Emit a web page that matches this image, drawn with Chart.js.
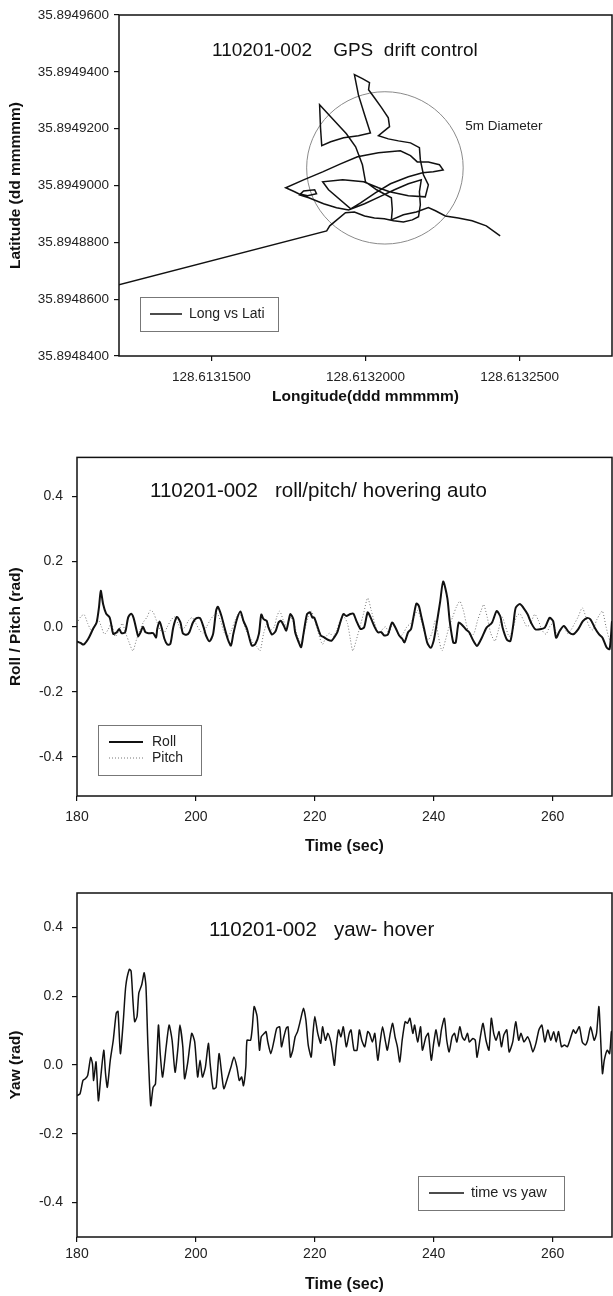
<!DOCTYPE html>
<html lang="en">
<head>
  <meta charset="UTF-8" />
  <title>110201-002 GPS drift / roll-pitch / yaw</title>
  <script src="https://cdn.jsdelivr.net/npm/chart.js"></script>
  <style>
    body { margin: 0; background: #fff; }
    .plot { position: absolute; left: 0; }
  </style>
</head>
<body>
  <canvas id="gpsChart" class="plot" width="613" height="420" style="top:0px"></canvas>
  <canvas id="rpChart" class="plot" width="613" height="420" style="top:440px"></canvas>
  <canvas id="yawChart" class="plot" width="613" height="436" style="top:860px"></canvas>

  <script>
    const FONT = '"Liberation Sans", Arial, sans-serif';

    // --- GPS track (longitude / latitude, degrees) ---
    const gpsLon = [
      128.6131197, 128.6131874, 128.6131884, 128.6131935, 128.6131964, 128.6131997, 128.6132029, 128.6132061, 128.6132091, 128.6132123,
      128.6132152, 128.6132172, 128.6132178, 128.6132175, 128.6132181, 128.6132139, 128.6132094, 128.6132045, 128.6131997, 128.6131945,
      128.6131906, 128.6131864, 128.6131816, 128.6131786, 128.6131799, 128.6131835, 128.6131841, 128.6131812, 128.6131783, 128.6131770,
      128.6131741, 128.6131799, 128.6131861, 128.6131919, 128.6131974, 128.6132042, 128.6132113, 128.6132146, 128.6132168, 128.6132204,
      128.6132240, 128.6132252, 128.6132220, 128.6132185, 128.6132139, 128.6132081, 128.6132032, 128.6131984, 128.6131952, 128.6131880,
      128.6131861, 128.6131926, 128.6131994, 128.6132042, 128.6132078, 128.6132139, 128.6132194, 128.6132204, 128.6132188, 128.6132178,
      128.6132175, 128.6132146, 128.6132107, 128.6132074, 128.6132042, 128.6132061, 128.6132078, 128.6132074, 128.6132052, 128.6132029,
      128.6132010, 128.6132013, 128.6131990, 128.6131964, 128.6131977, 128.6131997, 128.6132016, 128.6131977, 128.6131929, 128.6131887,
      128.6131858, 128.6131854, 128.6131851, 128.6131896, 128.6131938, 128.6131968, 128.6131990, 128.6132000, 128.6132036, 128.6132084,
      128.6132087, 128.6132084, 128.6132123, 128.6132165, 128.6132204, 128.6132227, 128.6132259, 128.6132301, 128.6132346, 128.6132392,
      128.6132437
    ];
    const gpsLat = [
      35.8948650, 35.8948840, 35.8948858, 35.8948904, 35.8948907, 35.8948893, 35.8948886, 35.8948883, 35.8948876, 35.8948872,
      35.8948879, 35.8948890, 35.8948932, 35.8948978, 35.8949020, 35.8949006, 35.8948985, 35.8948960, 35.8948936, 35.8948914,
      35.8948922, 35.8948936, 35.8948957, 35.8948967, 35.8948981, 35.8948985, 35.8948971, 35.8948964, 35.8948971, 35.8948978,
      35.8948992, 35.8949020, 35.8949048, 35.8949076, 35.8949101, 35.8949115, 35.8949122, 35.8949105, 35.8949083, 35.8949083,
      35.8949073, 35.8949055, 35.8949048, 35.8949045, 35.8949031, 35.8949006, 35.8948974, 35.8948939, 35.8948918, 35.8948985,
      35.8949013, 35.8949020, 35.8949013, 35.8948992, 35.8948978, 35.8948964, 35.8948960, 35.8949002, 35.8949038, 35.8949090,
      35.8949133, 35.8949150, 35.8949157, 35.8949164, 35.8949175, 35.8949192, 35.8949207, 35.8949238, 35.8949274, 35.8949309,
      35.8949337, 35.8949362, 35.8949376, 35.8949390, 35.8949319, 35.8949249, 35.8949185, 35.8949175, 35.8949168, 35.8949154,
      35.8949140, 35.8949203, 35.8949284, 35.8949231, 35.8949182, 35.8949136, 35.8949073, 35.8949013, 35.8948985, 35.8948957,
      35.8948915, 35.8948879, 35.8948897, 35.8948907, 35.8948922, 35.8948911, 35.8948893, 35.8948886, 35.8948876, 35.8948858,
      35.8948823
    ];
    const lonTicks = [128.61315, 128.6132, 128.61325];
    const latTicks = [35.89484, 35.89486, 35.89488, 35.8949, 35.89492, 35.89494, 35.89496];
    // 5 m circle: centre and half-axes in degrees
    const ring = { lon: 128.6132063, lat: 35.8949062, dLon: 0.0000254, dLat: 0.0000268,
                   text: '5m Diameter', textLon: 128.6132324, textLat: 35.8949210 };

    // --- roll / pitch (rad) vs time (sec) ---
    const rollTime = [
      180.0,180.6,181.1,181.9,182.7,183.3,183.7,184.0,184.4,184.9,
      185.5,185.8,186.1,186.7,187.1,187.5,188.1,188.6,189.1,189.5,
      190.1,190.3,190.7,191.1,191.5,192.0,192.8,193.3,193.5,193.9,
      194.3,194.7,195.2,195.7,196.2,196.8,197.4,197.8,198.4,198.9,
      199.5,200.1,200.7,201.3,201.7,202.3,202.9,203.4,203.7,204.3,
      204.8,205.4,205.9,206.3,206.9,207.5,208.0,208.6,209.4,210.0,
      210.6,211.0,211.4,211.9,212.2,212.8,213.4,213.9,214.3,214.8,
      215.2,215.6,215.9,216.4,216.7,217.3,217.7,218.1,218.7,219.2,
      219.6,219.9,220.4,221.0,221.5,222.2,222.8,223.3,223.8,224.2,
      224.8,225.3,226.0,226.5,227.0,227.7,228.3,228.9,229.4,230.1,
      230.6,231.2,231.7,232.3,233.0,233.6,234.2,234.7,235.1,235.7,
      236.2,236.7,237.1,237.5,237.9,238.4,238.9,239.5,240.0,240.4,
      241.1,241.6,242.3,242.7,243.3,243.7,244.2,244.7,245.4,246.0,
      246.7,247.3,248.1,248.9,249.8,250.6,251.2,251.6,252.3,252.9,
      253.4,253.8,254.5,255.1,255.8,256.4,257.1,257.9,258.7,259.5,
      260.1,260.6,261.2,261.9,262.8,263.5,264.3,265.1,265.8,266.4,
      267.1,267.8,268.4,269.1,269.6,270.0
    ];
    const rollValue = [
      -0.045,-0.05,-0.055,-0.037,-0.007,0.013,0.06,0.11,0.069,0.04,
      0.028,0.003,-0.022,-0.017,-0.007,-0.02,-0.017,0.028,0.04,0.028,
      -0.017,-0.03,-0.017,0.0,-0.017,-0.02,-0.02,-0.033,-0.007,0.016,
      -0.007,-0.037,-0.055,-0.053,-0.002,0.03,0.013,-0.02,-0.025,-0.017,
      0.013,0.026,0.026,-0.002,-0.027,-0.045,-0.022,0.049,0.061,0.033,
      -0.002,-0.04,-0.058,-0.022,0.023,0.047,0.018,-0.007,-0.058,-0.053,
      -0.022,0.037,0.023,0.018,-0.002,-0.024,-0.014,0.013,0.018,0.003,
      -0.012,0.018,0.039,0.023,-0.017,-0.048,-0.063,-0.022,0.039,0.044,
      0.028,0.028,0.003,-0.027,-0.032,-0.04,-0.043,-0.032,-0.017,0.008,
      0.039,0.033,0.039,0.04,0.018,-0.007,-0.002,0.044,0.028,-0.002,
      -0.017,-0.017,-0.027,-0.024,0.013,-0.004,-0.027,-0.037,-0.048,-0.017,
      -0.007,0.039,0.071,0.064,0.033,-0.007,-0.048,-0.065,-0.043,-0.003,
      0.078,0.139,0.088,0.017,-0.049,-0.049,0.012,0.007,-0.008,-0.018,
      -0.044,-0.059,-0.034,-0.003,0.012,0.048,0.032,-0.003,-0.039,-0.044,
      0.007,0.058,0.07,0.058,0.038,0.012,-0.008,-0.008,-0.003,0.027,
      0.017,-0.034,-0.013,0.002,-0.018,-0.023,-0.008,0.017,0.027,0.022,
      -0.003,-0.023,-0.034,-0.064,-0.069,0.017
    ];
    const pitchTime = [
      180.0,180.6,181.2,181.8,182.4,183.0,183.6,184.1,184.6,185.2,
      185.8,186.4,187.0,187.6,188.2,188.8,189.4,190.0,190.6,191.2,
      191.8,192.3,192.8,193.4,194.0,194.6,195.2,195.8,196.4,197.0,
      197.6,198.2,198.8,199.4,200.0,200.6,201.2,201.8,202.4,203.0,
      203.6,204.2,204.8,205.4,206.0,206.6,207.2,207.8,208.4,209.0,
      209.6,210.2,210.8,211.4,212.0,212.6,213.2,213.6,214.1,214.7,
      215.3,215.9,216.5,217.1,217.7,218.3,218.9,219.4,220.0,220.6,
      221.3,221.9,222.5,223.1,223.7,224.3,224.9,225.5,226.0,226.4,
      227.0,227.6,228.2,228.9,229.5,230.1,230.7,231.3,231.9,232.5,
      233.1,233.7,234.3,234.9,235.5,236.1,236.7,237.3,237.9,238.5,
      239.1,239.7,240.3,240.8,241.4,242.0,242.6,243.2,243.8,244.4,
      245.0,245.6,246.2,246.8,247.4,248.0,248.4,249.0,249.6,250.3,
      250.9,251.5,252.1,252.7,253.3,253.9,254.5,255.1,255.7,256.3,
      257.0,257.6,258.2,258.9,259.5,260.1,260.7,261.3,261.9,262.5,
      263.1,263.7,264.3,265.0,265.6,266.2,266.8,267.4,268.0,268.4,
      269.0,269.6,270.0
    ];
    const pitchValue = [
      0.01,0.03,0.037,0.01,-0.01,0.005,0.02,0.0,-0.023,-0.01,
      0.01,-0.03,-0.015,0.01,-0.02,-0.05,-0.074,-0.04,-0.01,0.015,
      0.03,0.05,0.045,0.017,-0.01,-0.02,0.0,0.02,0.03,0.01,
      -0.01,0.0,0.02,0.028,0.01,-0.01,-0.02,0.0,0.02,0.035,
      0.04,0.015,-0.02,-0.03,-0.01,0.02,0.04,0.025,-0.01,-0.03,
      -0.05,-0.06,-0.074,-0.02,0.01,-0.01,0.0,0.03,0.048,0.02,
      0.0,0.03,0.01,-0.03,-0.05,-0.01,0.03,0.048,0.02,-0.02,
      -0.054,-0.03,-0.02,-0.03,-0.01,0.02,0.03,0.01,-0.04,-0.074,
      -0.04,0.0,0.04,0.088,0.05,0.01,-0.02,-0.01,0.0,-0.02,
      0.01,-0.01,-0.03,-0.02,0.0,0.01,0.03,0.05,0.02,-0.02,
      -0.04,-0.02,0.02,-0.03,-0.074,-0.04,0.0,0.03,0.06,0.078,
      0.05,0.0,-0.03,-0.02,0.02,0.05,0.068,0.03,-0.02,-0.044,
      -0.01,0.03,0.0,-0.03,-0.01,0.03,0.04,0.02,0.0,0.01,
      0.038,0.02,-0.01,-0.023,0.0,0.01,-0.02,-0.01,0.0,-0.02,
      -0.01,0.01,0.03,0.058,0.03,0.0,-0.01,0.02,0.04,0.048,
      0.0,-0.04,-0.02
    ];

    // --- yaw (rad) vs time (sec) ---
    const yawTime = [
      180.0,180.5,181.0,181.4,181.8,182.3,182.6,182.8,183.2,183.6,
      184.0,184.5,184.8,185.1,185.6,186.1,186.6,186.9,187.3,187.8,
      188.2,188.8,189.1,189.4,189.7,190.1,190.4,190.9,191.3,191.6,
      191.9,192.4,192.8,193.2,193.7,194.0,194.4,195.0,195.5,196.0,
      196.5,197.0,197.3,197.8,198.1,198.6,199.3,199.8,200.3,200.7,
      201.1,201.6,202.1,202.4,202.9,203.4,203.9,204.4,204.7,205.2,
      205.9,206.4,206.9,207.3,207.7,208.0,208.4,208.6,209.2,209.5,
      209.8,210.3,210.7,211.0,211.5,211.8,212.1,212.6,213.1,213.6,
      214.1,214.4,214.8,215.2,215.5,215.9,216.3,216.7,217.1,217.6,
      218.1,218.5,218.9,219.4,219.7,220.0,220.5,221.0,221.3,221.8,
      222.2,222.7,223.0,223.3,223.6,224.0,224.4,224.8,225.3,225.8,
      226.1,226.6,227.1,227.5,227.9,228.4,228.9,229.2,229.7,230.1,
      230.6,231.0,231.4,231.9,232.2,232.7,233.1,233.5,233.9,234.3,
      234.7,235.2,235.6,236.0,236.5,236.8,237.3,237.8,238.1,238.7,
      239.1,239.6,240.0,240.4,240.9,241.3,241.8,242.2,242.6,243.1,
      243.5,243.9,244.4,244.8,245.2,245.7,246.0,246.6,247.0,247.3,
      247.9,248.3,248.8,249.3,249.7,250.1,250.5,251.0,251.4,251.8,
      252.3,252.7,253.3,253.8,254.3,254.7,255.2,255.8,256.2,256.7,
      257.2,257.7,258.2,258.7,259.2,259.7,260.2,260.6,261.0,261.5,
      262.0,262.5,263.0,263.5,263.9,264.5,265.0,265.5,265.9,266.4,
      267.0,267.4,267.8,268.1,268.4,268.7,269.2,269.6,269.9,270.0
    ];
    const yawValue = [
      -0.089,-0.084,-0.045,-0.04,-0.03,0.022,0.004,-0.045,0.009,-0.104,
      -0.035,0.043,-0.025,-0.065,0.014,0.072,0.151,0.156,0.033,0.131,
      0.229,0.278,0.273,0.19,0.126,0.141,0.209,0.234,0.268,0.229,
      0.072,-0.118,-0.065,-0.055,0.116,0.033,-0.035,0.053,0.116,0.072,
      -0.021,0.053,0.116,0.053,-0.04,0.004,0.092,0.067,-0.035,0.014,
      -0.035,-0.006,0.063,0.004,-0.069,-0.065,0.033,-0.035,-0.069,-0.045,
      -0.006,0.023,-0.006,-0.045,-0.035,-0.06,-0.006,0.072,0.072,0.111,
      0.17,0.141,0.043,0.082,0.092,0.097,0.067,0.033,0.067,0.107,
      0.111,0.053,0.082,0.107,0.111,0.023,0.043,0.082,0.097,0.131,
      0.165,0.131,0.058,0.023,0.092,0.141,0.092,0.063,0.111,0.072,
      0.092,0.067,0.033,-0.001,0.053,0.102,0.082,0.111,0.053,0.092,
      0.102,0.043,0.043,0.102,0.072,0.053,0.097,0.092,0.067,0.092,
      0.014,0.067,0.111,0.067,0.043,0.092,0.121,0.082,0.053,0.009,
      0.072,0.126,0.121,0.136,0.092,0.116,0.067,0.111,0.043,0.082,
      0.092,0.014,0.063,0.102,0.053,0.102,0.136,0.072,0.038,0.082,
      0.092,0.067,0.111,0.082,0.072,0.092,0.067,0.077,0.072,0.023,
      0.087,0.121,0.072,0.043,0.136,0.092,0.072,0.097,0.053,0.087,
      0.102,0.038,0.067,0.126,0.072,0.092,0.067,0.082,0.067,0.038,
      0.063,0.102,0.116,0.067,0.102,0.072,0.097,0.067,0.097,0.053,
      0.058,0.053,0.077,0.102,0.092,0.111,0.067,0.058,0.072,0.111,
      0.072,0.092,0.17,0.072,-0.025,0.014,0.043,0.033,0.097,0.092
    ];
    const timeTicks = [180, 200, 220, 240, 260];
    const radTicks = [-0.4, -0.2, 0, 0.2, 0.4];

    Chart.defaults.font.family = FONT;
    Chart.defaults.color = '#222';

    const pts = (xs, ys) => xs.map((x, i) => ({ x: x, y: ys[i] }));

    function makeAxis(o) {
      return {
        type: 'linear',
        min: o.min,
        max: o.max,
        afterBuildTicks: s => { s.ticks = o.ticks.map(v => ({ value: v })); },
        afterFit: s => { if (s.isHorizontal()) s.height = o.fit; else s.width = o.fit; },
        grid: { drawOnChartArea: false, drawTicks: true, tickLength: 5, color: '#111', lineWidth: 1.2 },
        border: { display: false },
        ticks: {
          autoSkip: false, maxRotation: 0, padding: o.tickPad, color: '#222',
          font: { size: o.tickSize },
          callback: v => Number(v).toFixed(o.digits)
        },
        title: {
          display: true, text: o.title, color: '#111',
          font: { size: o.titleSize, weight: 'bold' },
          padding: o.titlePad
        }
      };
    }

    // frame, in-plot title, legend box and the 5 m ring
    function decorations(cfg) {
      return {
        id: 'decorations',
        beforeDatasetsDraw(chart) {
          if (!cfg.ring) return;
          const { ctx, scales: { x, y } } = chart;
          const r = cfg.ring;
          const cx = x.getPixelForValue(r.lon), cy = y.getPixelForValue(r.lat);
          const rx = x.getPixelForValue(r.lon + r.dLon) - cx;
          const ry = cy - y.getPixelForValue(r.lat + r.dLat);
          ctx.save();
          ctx.strokeStyle = '#8a8a8a';
          ctx.lineWidth = 1;
          ctx.beginPath();
          ctx.ellipse(cx, cy, rx, ry, 0, 0, Math.PI * 2);
          ctx.stroke();
          ctx.fillStyle = '#222';
          ctx.font = '13.5px ' + FONT;
          ctx.textBaseline = 'middle';
          ctx.fillText(r.text, x.getPixelForValue(r.textLon), y.getPixelForValue(r.textLat));
          ctx.restore();
        },
        afterDraw(chart) {
          const { ctx, chartArea: a } = chart;
          ctx.save();
          ctx.strokeStyle = '#111';
          ctx.lineWidth = 1.5;
          ctx.strokeRect(a.left, a.top, a.right - a.left, a.bottom - a.top);

          ctx.fillStyle = '#111';
          ctx.textBaseline = 'middle';
          ctx.textAlign = 'left';
          ctx.font = cfg.title.size + 'px ' + FONT;
          ctx.fillText(cfg.title.text, cfg.title.x, cfg.title.y);

          const L = cfg.legend;
          ctx.strokeStyle = '#777';
          ctx.lineWidth = 1;
          ctx.strokeRect(L.x + 0.5, L.y + 0.5, L.w, L.h);
          ctx.font = L.size + 'px ' + FONT;
          chart.data.datasets.forEach((ds, i) => {
            const yy = L.rows[i];
            ctx.strokeStyle = ds.borderColor;
            ctx.lineWidth = ds.borderWidth;
            ctx.setLineDash(ds.borderDash || []);
            ctx.beginPath();
            ctx.moveTo(L.x0, yy);
            ctx.lineTo(L.x1, yy);
            ctx.stroke();
            ctx.setLineDash([]);
            ctx.fillStyle = '#222';
            ctx.fillText(ds.label, L.tx, yy);
          });
          ctx.restore();
        }
      };
    }

    new Chart(document.getElementById('gpsChart'), {
      type: 'scatter',
      data: {
        datasets: [{
          label: 'Long vs Lati',
          data: pts(gpsLon, gpsLat),
          showLine: true,
          borderColor: '#111',
          borderWidth: 1.5,
          pointRadius: 0,
          tension: 0
        }]
      },
      options: {
        responsive: false,
        animation: false,
        layout: { padding: { left: 0, top: 15, right: 1, bottom: 0 } },
        plugins: { legend: { display: false }, tooltip: { enabled: false } },
        scales: {
          x: makeAxis({ min: 128.61312, max: 128.61328, ticks: lonTicks, digits: 7, fit: 64,
                        tickPad: 8, tickSize: 13.5, title: 'Longitude(ddd mmmmm)', titleSize: 15.5,
                        titlePad: { top: 0, bottom: 14 } }),
          y: makeAxis({ min: 35.89484, max: 35.89496, ticks: latTicks, digits: 7, fit: 119,
                        tickPad: 5, tickSize: 13.5, title: 'Latitude (dd mmmmm)', titleSize: 15.5,
                        titlePad: { top: 6.5, bottom: 0 } })
        }
      },
      plugins: [decorations({
        ring: ring,
        title: { text: '110201-002    GPS  drift control', x: 212, y: 51, size: 19 },
        legend: { x: 140, y: 297, w: 138, h: 34, rows: [314], x0: 150, x1: 182, tx: 189, size: 14 }
      })]
    });

    new Chart(document.getElementById('rpChart'), {
      type: 'line',
      data: {
        datasets: [
          {
            label: 'Roll',
            data: pts(rollTime, rollValue),
            borderColor: '#111',
            borderWidth: 2,
            pointRadius: 0,
            tension: 0.25
          },
          {
            label: 'Pitch',
            data: pts(pitchTime, pitchValue),
            borderColor: '#777',
            borderWidth: 1,
            borderDash: [1, 2],
            pointRadius: 0,
            tension: 0.25
          }
        ]
      },
      options: {
        responsive: false,
        animation: false,
        layout: { padding: { left: 0, top: 15, right: 1, bottom: 0 } },
        plugins: { legend: { display: false }, tooltip: { enabled: false } },
        scales: {
          x: makeAxis({ min: 180, max: 270, ticks: timeTicks, digits: 0, fit: 64,
                        tickPad: 8, tickSize: 14, title: 'Time (sec)', titleSize: 16,
                        titlePad: { top: 0, bottom: 4 } }),
          y: makeAxis({ min: -0.52, max: 0.52, ticks: radTicks, digits: 1, fit: 77,
                        tickPad: 9, tickSize: 14, title: 'Roll / Pitch (rad)', titleSize: 15.5,
                        titlePad: { top: 6.5, bottom: 0 } })
        }
      },
      plugins: [decorations({
        title: { text: '110201-002   roll/pitch/ hovering auto', x: 150, y: 51, size: 20.5 },
        legend: { x: 98, y: 285, w: 103, h: 50, rows: [302, 318], x0: 109, x1: 143, tx: 152, size: 14 }
      })]
    });

    new Chart(document.getElementById('yawChart'), {
      type: 'line',
      data: {
        datasets: [{
          label: 'time vs yaw',
          data: pts(yawTime, yawValue),
          borderColor: '#111',
          borderWidth: 1.5,
          pointRadius: 0,
          tension: 0.2
        }]
      },
      options: {
        responsive: false,
        animation: false,
        layout: { padding: { left: 0, top: 33, right: 1, bottom: 0 } },
        plugins: { legend: { display: false }, tooltip: { enabled: false } },
        scales: {
          x: makeAxis({ min: 180, max: 270, ticks: timeTicks, digits: 0, fit: 59,
                        tickPad: 4, tickSize: 14, title: 'Time (sec)', titleSize: 16,
                        titlePad: { top: 0, bottom: 1.5 } }),
          y: makeAxis({ min: -0.5, max: 0.5, ticks: radTicks, digits: 1, fit: 77,
                        tickPad: 9, tickSize: 14, title: 'Yaw (rad)', titleSize: 15.5,
                        titlePad: { top: 6.5, bottom: 0 } })
        }
      },
      plugins: [decorations({
        title: { text: '110201-002   yaw- hover', x: 209, y: 70, size: 20.5 },
        legend: { x: 418, y: 316, w: 146, h: 34, rows: [333], x0: 429, x1: 464, tx: 471, size: 14.5 }
      })]
    });
  </script>
</body>
</html>
